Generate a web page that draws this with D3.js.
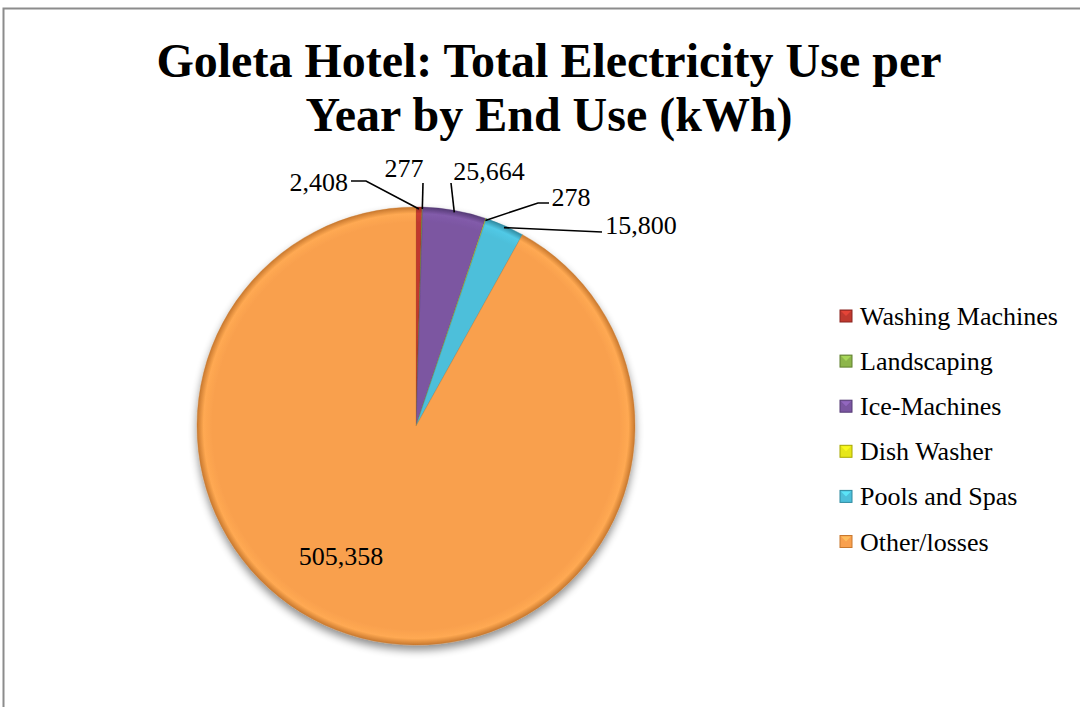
<!DOCTYPE html>
<html><head><meta charset="utf-8">
<script src="https://cdn.jsdelivr.net/npm/d3@7"></script>
<style>body{margin:0;background:#fff}svg{display:block}</style>
</head><body><svg id="c" width="1080" height="707"></svg>
<script>
const categories = ["Washing Machines","Landscaping","Ice-Machines","Dish Washer","Pools and Spas","Other/losses"];
const values = [2408, 277, 25664, 278, 15800, 505358];
const labels = ["2,408","277","25,664","278","15,800","505,358"];
const colors = ["#C0392F","#8DB54B","#7B56A1","#E6E61A","#4DBFDA","#F9A04E"];
const darks  = ["#8A2420","#5F7F2E","#553A75","#A8A800","#2F8AA0","#C8782E"];
const FONT = "'Liberation Serif', 'Times New Roman', serif";

const svg = d3.select("#c");
const defs = svg.append("defs");
const f = defs.append("filter").attr("id","sh").attr("x","-20%").attr("y","-20%").attr("width","140%").attr("height","140%");
f.append("feGaussianBlur").attr("in","SourceAlpha").attr("stdDeviation",4).attr("result","b");
f.append("feOffset").attr("in","b").attr("dx",0).attr("dy",5).attr("result","o");
f.append("feComponentTransfer").attr("in","o").attr("result","o2").append("feFuncA").attr("type","linear").attr("slope",0.45);
const m = f.append("feMerge"); m.append("feMergeNode").attr("in","o2"); m.append("feMergeNode").attr("in","SourceGraphic");

colors.forEach((c,i)=>{
  const g = defs.append("radialGradient").attr("id","g"+i).attr("gradientUnits","userSpaceOnUse")
    .attr("cx",0).attr("cy",0).attr("r",219);
  g.append("stop").attr("offset","0%").attr("stop-color",c);
  g.append("stop").attr("offset","93%").attr("stop-color",c);
  g.append("stop").attr("offset","97%").attr("stop-color",d3.color(c).brighter(0.15));
  g.append("stop").attr("offset","100%").attr("stop-color",darks[i]);
});

// frame
svg.append("rect").attr("x",3.5).attr("y",8.5).attr("width",1100).attr("height",720)
  .attr("fill","none").attr("stroke","#8c8c8c").attr("stroke-width",2);

// title
const t = svg.append("text").attr("text-anchor","middle").style("font-family",FONT)
  .style("font-weight","bold").style("font-size","48px").attr("fill","#000");
t.append("tspan").attr("x",549).attr("y",77).text("Goleta Hotel: Total Electricity Use per");
t.append("tspan").attr("x",549).attr("y",131).text("Year by End Use (kWh)");

const cx = 416, cy = 426, R = 219;
const pie = d3.pie().sort(null).value(d=>d);
const arcs = pie(values);
const arc = d3.arc().innerRadius(0).outerRadius(R);
const g = svg.append("g").attr("transform",`translate(${cx},${cy})`);
const pg = g.append("g").attr("filter","url(#sh)");
pg.selectAll("path").data(arcs).join("path")
  .attr("d",arc).attr("fill",(d,i)=>`url(#g${i})`)
  .attr("stroke",(d,i)=>darks[i]).attr("stroke-width",0.6).attr("stroke-opacity",0.6);

// label layout config (positions relative to pie center)
const labelCfg = [
  {tx:-68, ty:-235, anchor:"end", elbow:[-50,-245], start:[-65,-245]},
  {tx:-12, ty:-249, anchor:"middle", elbow:null, start:[7,-243]},
  {tx:73, ty:-246, anchor:"middle", elbow:null, start:[35,-243]},
  {tx:155, ty:-220, anchor:"middle", elbow:[122,-223], start:[133,-223]},
  {tx:225, ty:-192, anchor:"middle", elbow:null, start:[186,-194]},
  {tx:-75, ty:139, anchor:"middle"}
];
const lab = g.append("g").style("font-family",FONT).style("font-size","26px").attr("fill","#000");
arcs.forEach((d,i)=>{
  const c = labelCfg[i];
  if (i < 5) {
    const a = (d.startAngle + d.endAngle)/2;
    const px = Math.sin(a)*(R-2), py = -Math.cos(a)*(R-2);
    const pts = [[px,py]];
    if (c.elbow) pts.push(c.elbow);
    pts.push(c.start);
    lab.append("path").attr("d",d3.line()(pts)).attr("fill","none").attr("stroke","#000").attr("stroke-width",1.6);
  }
  lab.append("text").attr("x",c.tx).attr("y",c.ty).attr("text-anchor",c.anchor).text(labels[i]);
});

// legend
const leg = svg.append("g").attr("transform","translate(840,316)");
const rowH = 45.1;
categories.forEach((name,i)=>{
  const r = leg.append("g").attr("transform",`translate(0,${i*rowH})`);
  r.append("rect").attr("x",0).attr("y",-6).attr("width",12).attr("height",12)
    .attr("fill",colors[i]).attr("stroke",darks[i]).attr("stroke-width",1);
  r.append("path").attr("d","M1,-5 L6,0 L11,-5 Z").attr("fill",d3.color(colors[i]).brighter(0.6)).attr("opacity",0.8);
  r.append("text").attr("x",20).attr("y",9).style("font-family",FONT)
    .style("font-size","26px").attr("fill","#000").text(name);
});
</script></body></html>
